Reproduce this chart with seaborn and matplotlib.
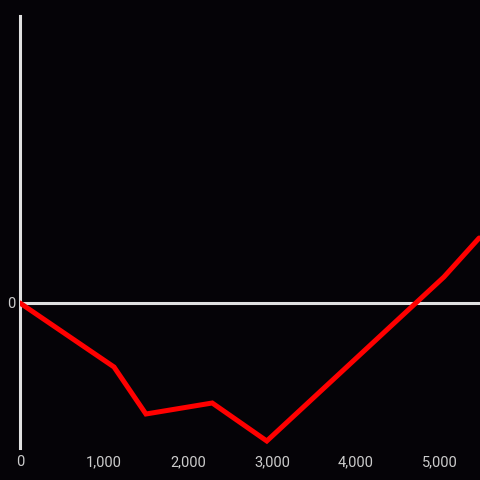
import matplotlib
matplotlib.use("Agg")
import matplotlib.pyplot as plt
import seaborn as sns
import pandas as pd

# values
x_vals = [0, 1120, 1500, 2290, 2940, 5050, 5470]
y_vals = [0, -640, -1110, -1000, -1380, 260, 650]
x_ticks = [0, 1000, 2000, 3000, 4000, 5000]
x_labels = ["0", "1,000", "2,000", "3,000", "4,000", "5,000"]

bg = "#050307"
axis_col = "#e0e0e0"
text_col = "#cccccc"

sns.set_style("dark")
plt.rcParams["font.family"] = ["Roboto", "DejaVu Sans"]
df = pd.DataFrame({"x": x_vals, "y": y_vals})

fig = plt.figure(figsize=(4.8, 4.8), dpi=100, facecolor=bg)
ax = fig.add_axes([20 / 480, 32 / 480, 460 / 480, 432 / 480])
ax.set_facecolor(bg)

sns.lineplot(data=df, x="x", y="y", ax=ax, color="#ff0000", linewidth=3.6,
             solid_joinstyle="miter", zorder=3)

ax.axhline(0, color=axis_col, linewidth=2.2, zorder=2)
for s in ["top", "right", "bottom"]:
    ax.spines[s].set_visible(False)
ax.spines["left"].set_color(axis_col)
ax.spines["left"].set_linewidth(2.2)

ax.set_xlim(0, 5480)
ax.set_ylim(-1450, 2870)
ax.set_xticks(x_ticks)
ax.set_xticklabels(x_labels)
ax.set_yticks([0])
ax.set_yticklabels(["0"])
ax.tick_params(axis="both", length=0, colors=text_col, labelsize=10.5)
ax.tick_params(axis="x", pad=5)
ax.tick_params(axis="y", pad=3)
ax.grid(False)
ax.set_xlabel("")
ax.set_ylabel("")

fig.savefig("out.png", dpi=100, facecolor=bg)
